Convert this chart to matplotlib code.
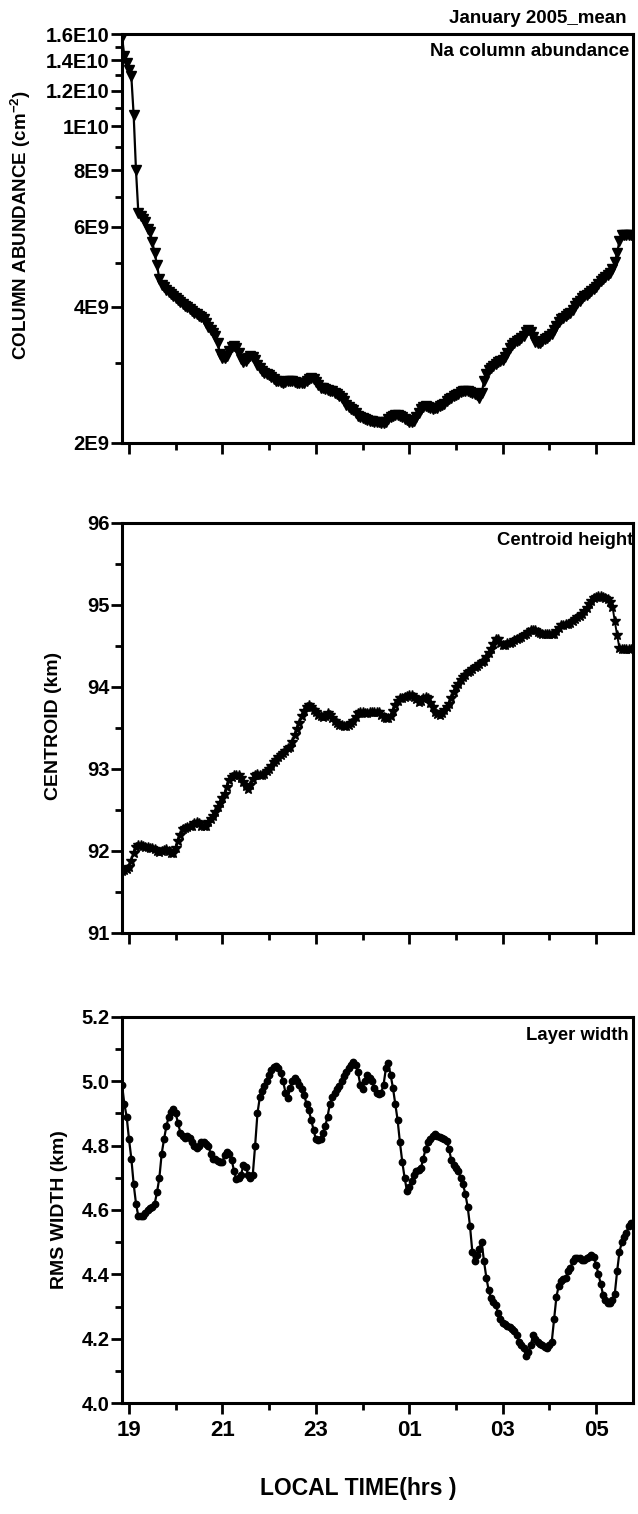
import numpy as np
import matplotlib
matplotlib.use('Agg')
import matplotlib.pyplot as plt
from matplotlib.ticker import FixedLocator, FixedFormatter, NullFormatter, MultipleLocator, FormatStrFormatter

plt.rcParams['font.family']		= ['Liberation Sans', 'DejaVu Sans']
plt.rcParams['font.weight']		= 'bold'
plt.rcParams['axes.labelweight']	= 'bold'
plt.rcParams['mathtext.fontset']	= 'custom'
plt.rcParams['mathtext.rm']		= 'Liberation Sans:bold'
plt.rcParams['mathtext.default']	= 'rm'

# 3-minute means, first sample at 18.85 LT; hours after midnight run on past 24
t_start	= 18.85
t_step	= 0.05

# Na column abundance, units of 1E9 cm^-2
na_col = [
	15.8, 14.3, 13.8, 13.3, 12.9, 10.6, 8.0, 6.45, 6.35, 6.25, 6.15, 5.95, 5.85, 5.55, 5.25, 4.95, 4.60, 4.47, 4.42, 4.36,
	4.32, 4.27, 4.22, 4.19, 4.14, 4.10, 4.06, 4.02, 3.99, 3.96, 3.92, 3.88, 3.85, 3.81, 3.79, 3.75, 3.68, 3.61, 3.55, 3.50,
	3.45, 3.32, 3.14, 3.08, 3.08, 3.12, 3.20, 3.26, 3.27, 3.24, 3.16, 3.07, 3.02, 3.03, 3.08, 3.11, 3.10, 3.05, 2.98, 2.93,
	2.89, 2.86, 2.84, 2.82, 2.80, 2.77, 2.74, 2.74, 2.73, 2.72, 2.73, 2.74, 2.74, 2.74, 2.73, 2.72, 2.71, 2.71, 2.71, 2.74,
	2.77, 2.78, 2.77, 2.73, 2.68, 2.65, 2.64, 2.63, 2.62, 2.61, 2.60, 2.58, 2.56, 2.54, 2.51, 2.47, 2.43, 2.40, 2.38, 2.36,
	2.33, 2.30, 2.28, 2.27, 2.26, 2.25, 2.24, 2.24, 2.23, 2.22, 2.22, 2.21, 2.21, 2.23, 2.26, 2.28, 2.30, 2.31, 2.31, 2.30,
	2.28, 2.26, 2.25, 2.23, 2.22, 2.24, 2.28, 2.33, 2.38, 2.40, 2.41, 2.40, 2.39, 2.38, 2.39, 2.39, 2.41, 2.43, 2.44, 2.47,
	2.50, 2.52, 2.54, 2.55, 2.57, 2.59, 2.60, 2.60, 2.60, 2.59, 2.58, 2.57, 2.55, 2.52, 2.58, 2.74, 2.84, 2.90, 2.93, 2.96,
	2.99, 3.02, 3.03, 3.05, 3.09, 3.16, 3.24, 3.30, 3.33, 3.36, 3.38, 3.41, 3.45, 3.52, 3.55, 3.52, 3.43, 3.35, 3.32, 3.33,
	3.36, 3.39, 3.41, 3.44, 3.49, 3.55, 3.62, 3.70, 3.75, 3.78, 3.81, 3.85, 3.88, 3.94, 4.01, 4.07, 4.12, 4.18, 4.22, 4.25,
	4.29, 4.33, 4.38, 4.43, 4.49, 4.55, 4.60, 4.65, 4.69, 4.74, 4.85, 5.03, 5.25, 5.60, 5.75, 5.77, 5.77, 5.76, 5.76,
]

# centroid height, km
centroid = [
	91.76, 91.77, 91.78, 91.80, 91.88, 91.98, 92.05, 92.07, 92.07, 92.06, 92.05, 92.05, 92.04, 92.03, 92.02, 92.00, 91.99, 92.00, 92.01, 92.02,
	92.00, 91.98, 91.97, 92.04, 92.12, 92.20, 92.27, 92.28, 92.29, 92.30, 92.31, 92.34, 92.35, 92.34, 92.31, 92.30, 92.31, 92.35, 92.39, 92.42,
	92.47, 92.53, 92.58, 92.64, 92.70, 92.78, 92.86, 92.90, 92.93, 92.93, 92.92, 92.89, 92.84, 92.79, 92.76, 92.80, 92.88, 92.93, 92.94, 92.93,
	92.93, 92.94, 92.97, 93.00, 93.04, 93.08, 93.11, 93.14, 93.17, 93.20, 93.22, 93.25, 93.27, 93.33, 93.41, 93.49, 93.56, 93.64, 93.71, 93.76,
	93.78, 93.76, 93.72, 93.69, 93.66, 93.64, 93.63, 93.65, 93.68, 93.66, 93.62, 93.58, 93.56, 93.54, 93.53, 93.52, 93.52, 93.54, 93.56, 93.58,
	93.63, 93.68, 93.69, 93.69, 93.68, 93.68, 93.69, 93.70, 93.70, 93.70, 93.69, 93.66, 93.63, 93.62, 93.62, 93.65, 93.71, 93.78, 93.83, 93.86,
	93.87, 93.88, 93.89, 93.90, 93.90, 93.88, 93.85, 93.82, 93.83, 93.86, 93.88, 93.86, 93.81, 93.75, 93.70, 93.67, 93.66, 93.68, 93.72, 93.76,
	93.79, 93.86, 93.94, 94.00, 94.04, 94.08, 94.12, 94.15, 94.18, 94.20, 94.22, 94.24, 94.26, 94.28, 94.30, 94.32, 94.36, 94.41, 94.46, 94.52,
	94.58, 94.58, 94.53, 94.51, 94.51, 94.53, 94.54, 94.55, 94.57, 94.58, 94.60, 94.61, 94.63, 94.65, 94.67, 94.69, 94.70, 94.69, 94.67, 94.66,
	94.65, 94.65, 94.65, 94.65, 94.65, 94.65, 94.68, 94.72, 94.75, 94.76, 94.77, 94.77, 94.78, 94.80, 94.83, 94.85, 94.87, 94.89, 94.92, 94.96,
	95.01, 95.05, 95.08, 95.10, 95.11, 95.11, 95.10, 95.09, 95.07, 95.04, 94.98, 94.80, 94.63, 94.47, 94.46, 94.46, 94.46, 94.46, 94.46,
]

# rms layer width, km
rms_width = [
	4.99, 4.93, 4.89, 4.82, 4.76, 4.68, 4.62, 4.58, 4.58, 4.58, 4.59, 4.60, 4.605, 4.61, 4.62, 4.655, 4.70, 4.775, 4.82, 4.86,
	4.89, 4.905, 4.913, 4.90, 4.87, 4.84, 4.83, 4.823, 4.83, 4.825, 4.81, 4.80, 4.792, 4.80, 4.81, 4.81, 4.805, 4.798, 4.775, 4.76,
	4.757, 4.752, 4.748, 4.75, 4.77, 4.78, 4.775, 4.755, 4.72, 4.695, 4.70, 4.71, 4.74, 4.735, 4.71, 4.70, 4.71, 4.80, 4.90, 4.95,
	4.97, 4.985, 5.00, 5.02, 5.035, 5.045, 5.048, 5.04, 5.025, 5.00, 4.965, 4.948, 4.98, 5.00, 5.009, 5.00, 4.99, 4.975, 4.958, 4.93,
	4.91, 4.88, 4.85, 4.82, 4.818, 4.82, 4.84, 4.86, 4.89, 4.93, 4.95, 4.965, 4.975, 4.985, 5.00, 5.015, 5.03, 5.04, 5.05, 5.06,
	5.05, 5.03, 4.99, 4.975, 5.00, 5.02, 5.01, 5.00, 4.98, 4.965, 4.96, 4.965, 4.99, 5.04, 5.056, 5.02, 4.98, 4.93, 4.88, 4.81,
	4.75, 4.70, 4.66, 4.67, 4.69, 4.71, 4.72, 4.725, 4.73, 4.76, 4.79, 4.81, 4.82, 4.83, 4.835, 4.83, 4.828, 4.825, 4.82, 4.815,
	4.79, 4.755, 4.74, 4.73, 4.72, 4.70, 4.68, 4.65, 4.61, 4.55, 4.47, 4.44, 4.46, 4.48, 4.50, 4.44, 4.39, 4.35, 4.325, 4.315,
	4.305, 4.28, 4.26, 4.25, 4.245, 4.24, 4.235, 4.23, 4.225, 4.21, 4.19, 4.18, 4.17, 4.145, 4.16, 4.18, 4.21, 4.20, 4.19, 4.185,
	4.18, 4.175, 4.17, 4.18, 4.19, 4.26, 4.33, 4.365, 4.38, 4.385, 4.39, 4.41, 4.42, 4.44, 4.45, 4.45, 4.45, 4.445, 4.445, 4.45,
	4.455, 4.46, 4.455, 4.43, 4.40, 4.37, 4.335, 4.32, 4.31, 4.31, 4.32, 4.34, 4.41, 4.47, 4.50, 4.515, 4.53, 4.55, 4.56,
]

hour_ticks	= [19, 21, 23, 25, 27, 29]
hour_minor	= [20, 22, 24, 26, 28]
hour_labels	= ['19', '21', '23', '01', '03', '05']

col_ticks	= [2e9, 4e9, 6e9, 8e9, 1e10, 1.2e10, 1.4e10, 1.6e10]
col_minor	= [3e9, 5e9, 7e9, 9e9, 1.1e10, 1.3e10, 1.5e10]
col_labels	= ['2E9', '4E9', '6E9', '8E9', '1E10', '1.2E10', '1.4E10', '1.6E10']

def hours(vals):
	return t_start + t_step*np.arange(len(vals))

fig = plt.figure(figsize=(6.38, 15.14), dpi=100)
ax1 = fig.add_axes([0.1912, 0.7074, 0.8010, 0.2701])
ax2 = fig.add_axes([0.1912, 0.3838, 0.8010, 0.2708])
ax3 = fig.add_axes([0.1912, 0.0733, 0.8010, 0.2550])

ax1.plot(hours(na_col), np.array(na_col)*1e9, color='k', lw=1.6, marker='v', ms=6.5, mec='k', mfc='k')
ax2.plot(hours(centroid), centroid, color='k', lw=1.4, marker='*', ms=7, mec='k', mfc='k')
ax3.plot(hours(rms_width), rms_width, color='k', lw=1.6, marker='o', ms=4.6, mec='k', mfc='k')

for ax in (ax1, ax2, ax3):
	ax.set_xlim(18.85, 29.79)
	ax.xaxis.set_major_locator(FixedLocator(hour_ticks))
	ax.xaxis.set_minor_locator(FixedLocator(hour_minor))
	ax.tick_params(which='both', direction='out', width=2, top=False, right=False)
	ax.tick_params(which='major', length=8)
	ax.tick_params(which='minor', length=5)
	ax.tick_params(axis='y', which='major', pad=1, labelsize=14.5)
	for sp in ax.spines.values(): sp.set_linewidth(2.2)

for ax in (ax1, ax2): ax.xaxis.set_major_formatter(NullFormatter())
ax3.xaxis.set_major_formatter(FixedFormatter(hour_labels))
ax3.tick_params(axis='x', which='major', pad=4, labelsize=16)

ax1.set_yscale('log')
ax1.set_ylim(2e9, 1.6e10)
ax1.yaxis.set_major_locator(FixedLocator(col_ticks))
ax1.yaxis.set_major_formatter(FixedFormatter(col_labels))
ax1.yaxis.set_minor_locator(FixedLocator(col_minor))
ax1.yaxis.set_minor_formatter(NullFormatter())

ax2.set_ylim(91, 96)
ax2.yaxis.set_major_locator(MultipleLocator(1))
ax2.yaxis.set_minor_locator(MultipleLocator(0.5))

ax3.set_ylim(4.0, 5.2)
ax3.yaxis.set_major_locator(MultipleLocator(0.2))
ax3.yaxis.set_minor_locator(MultipleLocator(0.1))
ax3.yaxis.set_major_formatter(FormatStrFormatter('%.1f'))

ax1.set_ylabel(r'COLUMN ABUNDANCE (cm$^{-2}$)', fontsize=13.5, fontweight='bold')
ax1.yaxis.set_label_coords(-0.174, 0.532)
ax2.set_ylabel('CENTROID (km)', fontsize=14, fontweight='bold')
ax2.yaxis.set_label_coords(-0.117, 0.505)
ax3.set_ylabel('RMS WIDTH (km)', fontsize=14, fontweight='bold')
ax3.yaxis.set_label_coords(-0.106, 0.5)

ax1.text(0.992, 0.978, 'Na column abundance', transform=ax1.transAxes, ha='right', va='top', fontsize=13.5)
ax2.text(1.0, 0.979, 'Centroid height', transform=ax2.transAxes, ha='right', va='top', fontsize=13.3)
ax3.text(0.991, 0.975, 'Layer width', transform=ax3.transAxes, ha='right', va='top', fontsize=13.3)

fig.text(0.982, 1-10/1514., 'January 2005_mean', ha='right', va='top', fontsize=13.5)
fig.text(358/638., 0.017, 'LOCAL TIME(hrs )', ha='center', va='center', fontsize=16.5)

plt.savefig('out.png', dpi=100)
